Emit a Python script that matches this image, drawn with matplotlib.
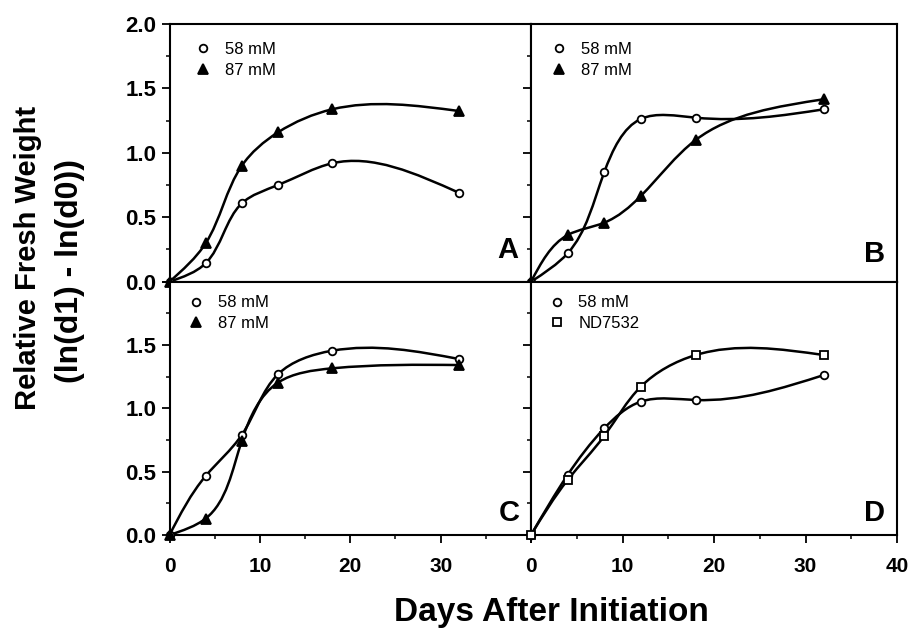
import numpy as np
import matplotlib
matplotlib.use("Agg")
import matplotlib.pyplot as plt
from matplotlib.path import Path
from matplotlib.patches import PathPatch
from matplotlib.ticker import MultipleLocator, FormatStrFormatter

plt.rcParams['font.family'] = ['Liberation Sans', 'DejaVu Sans']

days = [0, 4, 8, 12, 18, 32]

# panel A
a_58 = [0, 0.143, 0.608, 0.750, 0.919, 0.691]
a_87 = [0, 0.298, 0.900, 1.159, 1.338, 1.325]
# panel B
b_58 = [0, 0.220, 0.849, 1.263, 1.273, 1.338]
b_87 = [0, 0.362, 0.458, 0.665, 1.100, 1.416]
# panel C
c_58 = [0, 0.466, 0.790, 1.269, 1.455, 1.390]
c_87 = [0, 0.130, 0.745, 1.203, 1.316, 1.342]
# panel D
d_58 = [0, 0.474, 0.842, 1.053, 1.066, 1.263]
d_nd = [0, 0.434, 0.782, 1.171, 1.421, 1.421]

labels_ab = ["58 mM", "87 mM"]
labels_d = ["58 mM", "ND7532"]


def natural_slopes(t, v):
    n = len(t)
    h = np.diff(t)
    A = np.zeros((n, n))
    r = np.zeros(n)
    A[0, 0] = 1
    A[-1, -1] = 1
    for i in range(1, n - 1):
        A[i, i - 1] = h[i - 1]
        A[i, i] = 2 * (h[i - 1] + h[i])
        A[i, i + 1] = h[i]
        r[i] = 6 * ((v[i + 1] - v[i]) / h[i] - (v[i] - v[i - 1]) / h[i - 1])
    M = np.linalg.solve(A, r)
    d = np.zeros(n)
    for i in range(n - 1):
        d[i] = (v[i + 1] - v[i]) / h[i] - h[i] * (2 * M[i] + M[i + 1]) / 6
    d[-1] = (v[-1] - v[-2]) / h[-1] + h[-1] * (M[-2] + 2 * M[-1]) / 6
    return d


def spline_path(x, y, sx=9.1, sy=127.0):
    # parametric natural spline (chord length in screen units) as bezier segments
    x = np.asarray(x, float)
    y = np.asarray(y, float)
    t = np.concatenate([[0], np.cumsum(np.hypot(np.diff(x) * sx, np.diff(y) * sy))])
    dx = natural_slopes(t, x)
    dy = natural_slopes(t, y)
    h = np.diff(t)
    verts = [(x[0], y[0])]
    codes = [Path.MOVETO]
    for i in range(len(x) - 1):
        verts += [(x[i] + h[i] / 3 * dx[i], y[i] + h[i] / 3 * dy[i]),
                  (x[i + 1] - h[i] / 3 * dx[i + 1], y[i + 1] - h[i] / 3 * dy[i + 1]),
                  (x[i + 1], y[i + 1])]
        codes += [Path.CURVE4] * 3
    return Path(verts, codes)


fig = plt.figure(figsize=(9.14, 6.33), dpi=100)

W, H = 914, 633
boxes = {
    "A": (169.5, 24, 361.5, 257.7),
    "B": (531, 24, 366, 257.7),
    "C": (169.5, 281.7, 361.5, 253.3),
    "D": (531, 281.7, 366, 253.3),
}
panels = {
    "A": [(a_58, 'o', 'white', 5.5), (a_87, '^', 'black', 7)],
    "B": [(b_58, 'o', 'white', 5.5), (b_87, '^', 'black', 7)],
    "C": [(c_58, 'o', 'white', 5.5), (c_87, '^', 'black', 7)],
    "D": [(d_58, 'o', 'white', 5.5), (d_nd, 's', 'white', 5.5)],
}
leg_pos = {"A": (0.074, 0.929), "B": (0.058, 0.93), "C": (0.055, 0.946), "D": (0.052, 0.946)}
letter_pos = {"A": (0.964, 0.07), "B": (0.967, 0.055), "C": (0.97, 0.03), "D": (0.967, 0.03)}

for key, (l, t, w, hgt) in boxes.items():
    ax = fig.add_axes([l / W, 1 - (t + hgt) / H, w / W, hgt / H])
    labs = labels_d if key == "D" else labels_ab
    for (vals, mk, fc, ms), lab in zip(panels[key], labs):
        ax.add_patch(PathPatch(spline_path(days, vals), fill=False, lw=1.8,
                               edgecolor='black', zorder=2, clip_on=False))
        ax.plot(days, vals, linestyle='none', marker=mk, markersize=ms,
                markerfacecolor=fc, markeredgecolor='black', markeredgewidth=1.3,
                label=lab, zorder=3, clip_on=False)
    ax.set_xlim(0, 40)
    ax.set_ylim(0, 2.0)
    ax.xaxis.set_major_locator(MultipleLocator(10))
    ax.xaxis.set_minor_locator(MultipleLocator(5))
    ax.yaxis.set_major_locator(MultipleLocator(0.5))
    ax.yaxis.set_minor_locator(MultipleLocator(0.25))
    ax.yaxis.set_major_formatter(FormatStrFormatter('%.1f'))
    ax.tick_params(which='major', direction='out', length=6, width=1.3)
    ax.tick_params(which='minor', direction='out', length=3, width=1.1)
    ax.tick_params(axis='x', which='major', pad=10, labelsize=15)
    ax.tick_params(axis='y', which='major', pad=3.5, labelsize=16)
    for sp in ax.spines.values():
        sp.set_linewidth(1.5)

    if key in ("A", "B"):
        ax.tick_params(axis='x', labelbottom=False)
    if key in ("B", "D"):
        ax.tick_params(axis='y', labelleft=False)
    if key == "C":
        ax.set_yticks([0, 0.5, 1.0, 1.5, 2.0], ["0.0", "0.5", "1.0", "1.5", ""])
        ax.set_xticks([0, 10, 20, 30, 40], ["0", "10", "20", "30", ""])
    for lb in ax.get_xticklabels() + ax.get_yticklabels():
        lb.set_fontweight('bold')

    ax.legend(loc='upper left', bbox_to_anchor=leg_pos[key], frameon=False,
              fontsize=12, handlelength=0.8, handletextpad=0.9,
              labelspacing=0.33, borderpad=0, borderaxespad=0)
    lx, ly = letter_pos[key]
    ax.text(lx, ly, key, transform=ax.transAxes, ha='right', va='bottom',
            fontsize=21, fontweight='bold')

fig.text(28 / W, 1 - 258 / H, "Relative Fresh Weight", rotation=90,
         ha='center', va='center', fontsize=21, fontweight='bold')
fig.text(70 / W, 1 - 271 / H, "(ln(d1) - ln(d0))", rotation=90,
         ha='center', va='center', fontsize=23, fontweight='bold')
fig.text(551.5 / W, 1 - 612 / H, "Days After Initiation", ha='center',
         va='center', fontsize=24, fontweight='bold')

fig.savefig("out.png", dpi=100)
